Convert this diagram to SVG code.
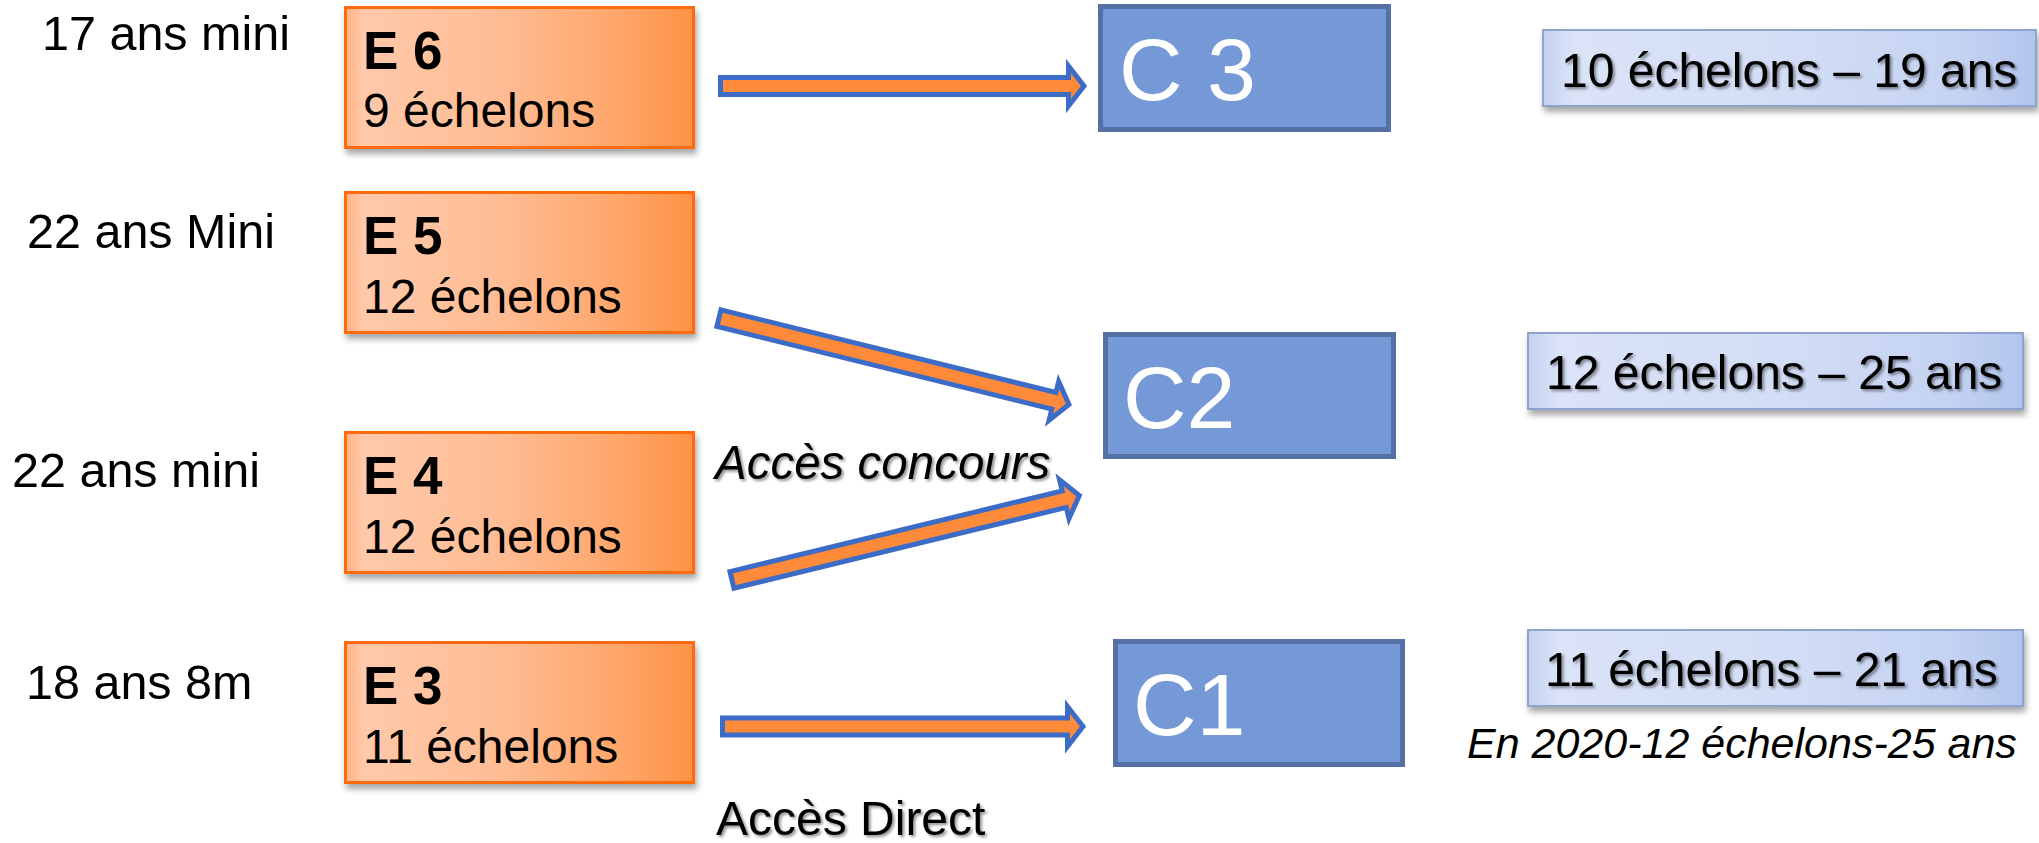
<svg xmlns="http://www.w3.org/2000/svg" width="2039" height="843" viewBox="0 0 2039 843">
<defs>
<linearGradient id="gE" x1="0" y1="0" x2="1" y2="0">
<stop offset="0" stop-color="#FFB083"/>
<stop offset="0.05" stop-color="#FFC9AA"/>
<stop offset="0.45" stop-color="#FFBC94"/>
<stop offset="0.8" stop-color="#FFA568"/>
<stop offset="1" stop-color="#FF9246"/>
</linearGradient>
<linearGradient id="gB" x1="0" y1="0" x2="1" y2="0">
<stop offset="0" stop-color="#C4D2F0"/>
<stop offset="0.06" stop-color="#DAE3F7"/>
<stop offset="0.5" stop-color="#D3DDF5"/>
<stop offset="0.85" stop-color="#C5D3F2"/>
<stop offset="1" stop-color="#B2C5EE"/>
</linearGradient>
<filter id="sh" x="-10%" y="-20%" width="130%" height="150%">
<feDropShadow dx="2" dy="5" stdDeviation="3" flood-color="#000" flood-opacity="0.35"/>
</filter>
<filter id="ts" x="-5%" y="-20%" width="110%" height="150%">
<feDropShadow dx="2" dy="2" stdDeviation="1.5" flood-color="#000" flood-opacity="0.45"/>
</filter>
</defs>
<style>
text{font-family:"Liberation Sans",Arial,sans-serif;fill:#000}
.lbl{font-size:48.5px}
.et{font-size:53px;font-weight:bold}
.es{font-size:48px}
.eb{fill:url(#gE);stroke:#FF6A0A;stroke-width:3}
.cb{fill:#7599D6;stroke:#5570A5;stroke-width:5}
.ct{font-size:88px;fill:#fff}
.rb{fill:url(#gB);stroke:#8FA3CE;stroke-width:2}
.rt{font-size:48px}
.it{font-style:italic}
.arr{fill:#FF8A3A;stroke:#3C6CC8;stroke-width:5;stroke-linejoin:miter}
</style>
<rect width="2039" height="843" fill="#fff"/>

<g id="labels">
<text class="lbl" x="42" y="50">17 ans mini</text>
<text class="lbl" x="27" y="248">22 ans Mini</text>
<text class="lbl" x="12" y="487">22 ans mini</text>
<text class="lbl" x="26" y="699">18 ans 8m</text>
</g>

<g id="E6">
<rect class="eb" x="345.5" y="7.5" width="348" height="140" filter="url(#sh)"/>
<text class="et" x="363" y="69">E 6</text>
<text class="es" x="363" y="127">9 échelons</text>
</g>
<g id="E5">
<rect class="eb" x="345.5" y="192.5" width="348" height="140" filter="url(#sh)"/>
<text class="et" x="363" y="254">E 5</text>
<text class="es" x="363" y="313">12 échelons</text>
</g>
<g id="E4">
<rect class="eb" x="345.5" y="432.5" width="348" height="140" filter="url(#sh)"/>
<text class="et" x="363" y="494">E 4</text>
<text class="es" x="363" y="553">12 échelons</text>
</g>
<g id="E3">
<rect class="eb" x="345.5" y="642.5" width="348" height="140" filter="url(#sh)"/>
<text class="et" x="363" y="704">E 3</text>
<text class="es" x="363" y="763">11 échelons</text>
</g>

<g id="connectors">
<path class="arr" transform="translate(718,86)" d="M2.5,-8.5 H350.5 V-20 L366,0 L350.5,20 V8.5 H2.5 Z"/>
<path class="arr" transform="translate(716.5,317.5) rotate(13.87)" d="M2.5,-8.5 H347.5 V-20 L363,0 L347.5,20 V8.5 H2.5 Z"/>
<path class="arr" transform="translate(729.5,580.5) rotate(-13.66)" d="M2.5,-8.5 H344.5 V-20 L360,0 L344.5,20 V8.5 H2.5 Z"/>
<path class="arr" transform="translate(720,726.5)" d="M2.5,-8.5 H347.5 V-20 L363,0 L347.5,20 V8.5 H2.5 Z"/>
</g>

<g id="acces-labels">
<text class="it" x="715" y="479" font-size="47.5" filter="url(#ts)">Accès concours</text>
<text x="716" y="835" font-size="48" filter="url(#ts)">Accès Direct</text>
</g>

<g id="C3">
<rect class="cb" x="1100.5" y="6.5" width="288" height="123"/>
<text class="ct" x="1119" y="100">C 3</text>
</g>
<g id="C2">
<rect class="cb" x="1105.5" y="334.5" width="288" height="122"/>
<text class="ct" x="1123" y="428">C2</text>
</g>
<g id="C1">
<rect class="cb" x="1115.5" y="641.5" width="287" height="123"/>
<text class="ct" x="1133" y="735">C1</text>
</g>

<g id="R3">
<rect class="rb" x="1543" y="30" width="493" height="76" filter="url(#sh)"/>
<text class="rt" x="1561" y="87" filter="url(#ts)">10 échelons – 19 ans</text>
</g>
<g id="R2">
<rect class="rb" x="1528" y="333" width="495" height="76" filter="url(#sh)"/>
<text class="rt" x="1546" y="389" filter="url(#ts)">12 échelons – 25 ans</text>
</g>
<g id="R1">
<rect class="rb" x="1528" y="630" width="495" height="76" filter="url(#sh)"/>
<text class="rt" x="1545" y="686" filter="url(#ts)">11 échelons – 21 ans</text>
<text class="it" x="1467" y="758" font-size="43">En 2020-12 échelons-25 ans</text>
</g>
</svg>
